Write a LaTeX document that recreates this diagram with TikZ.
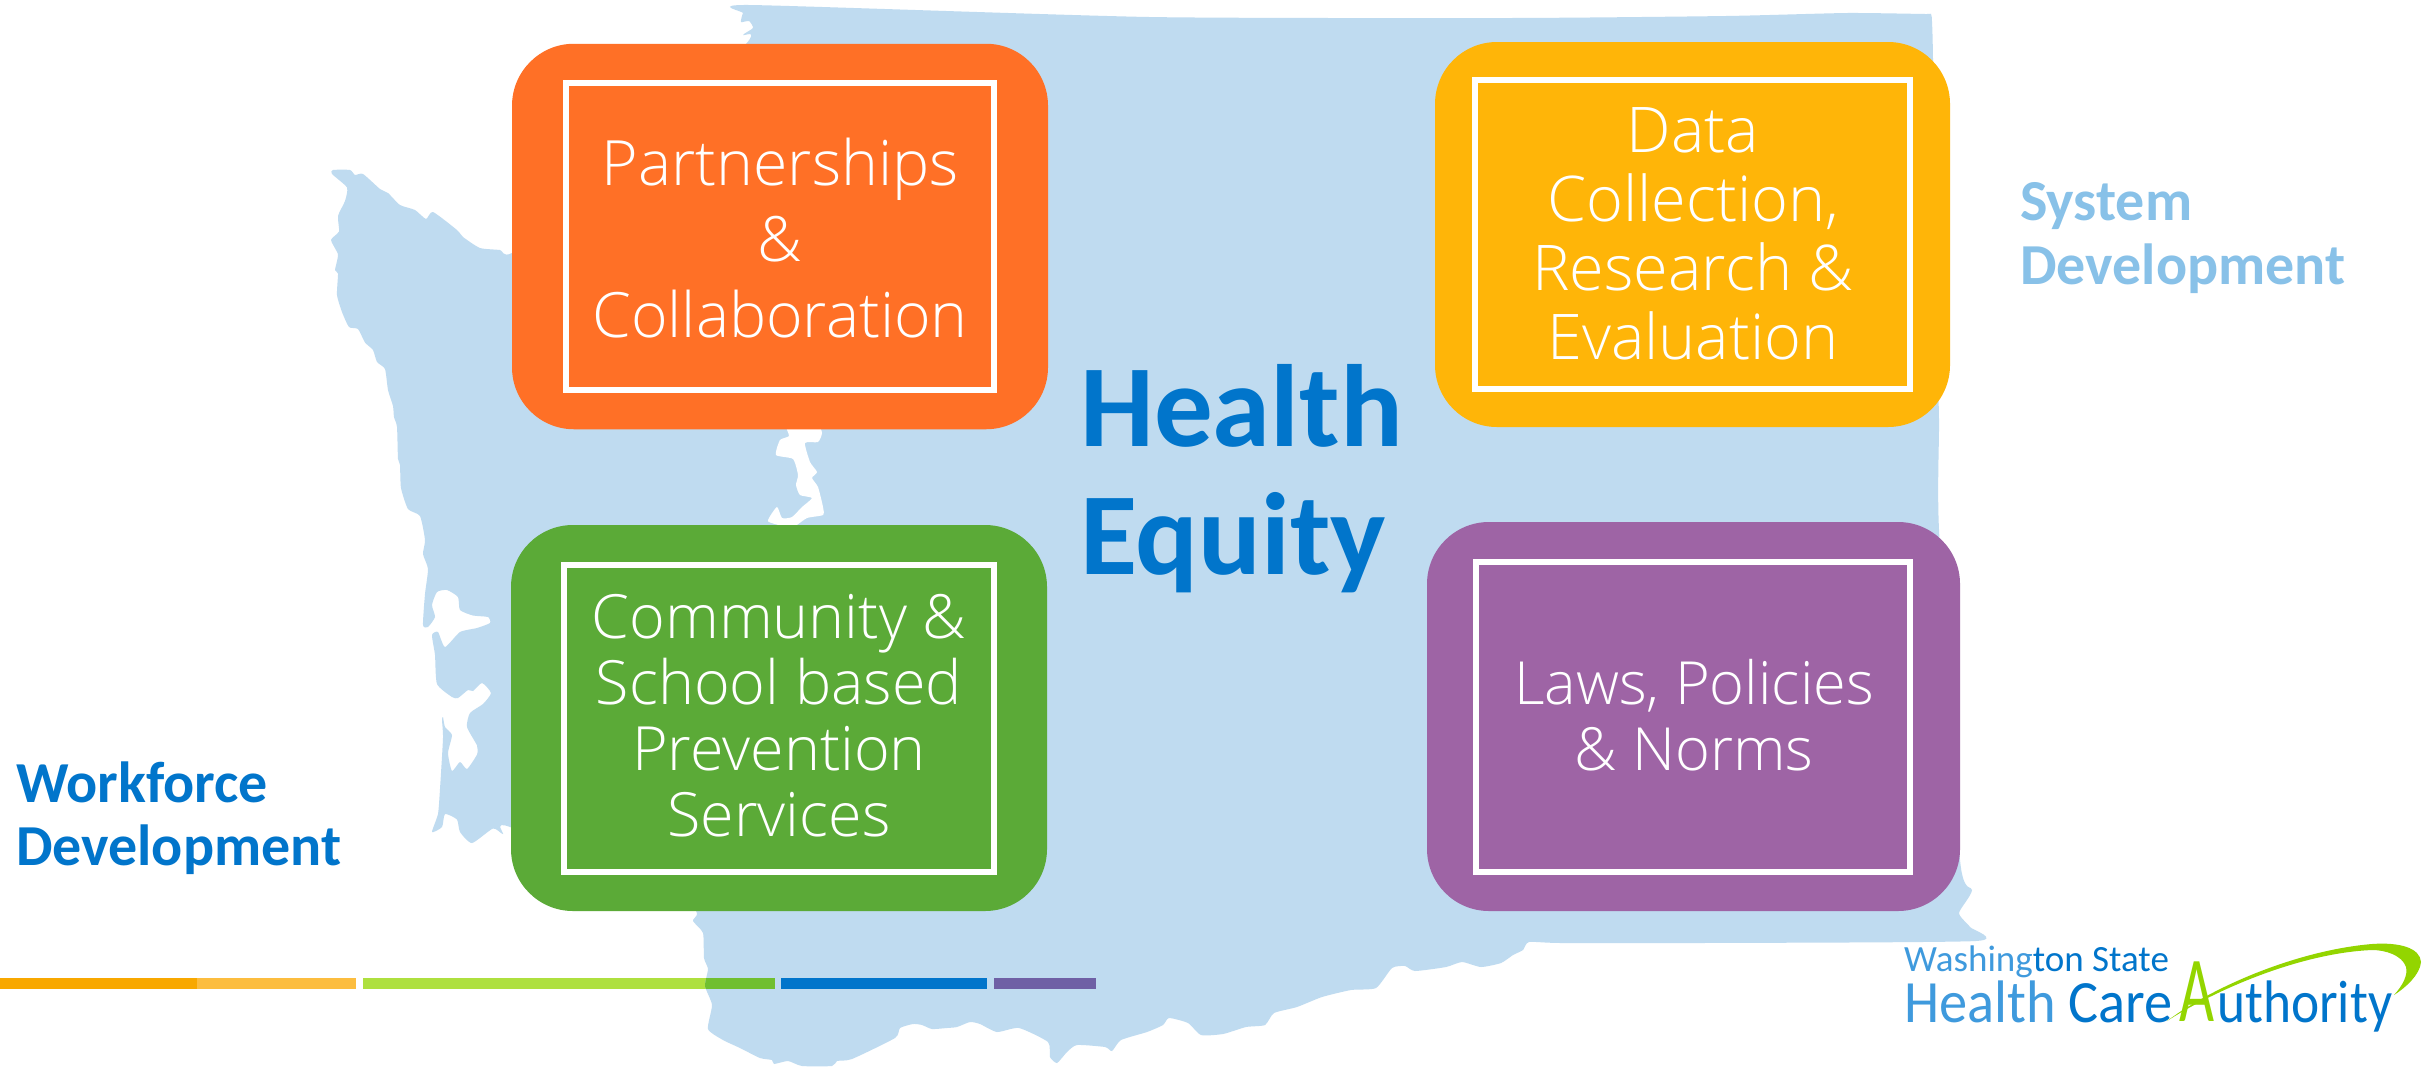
\documentclass[tikz,border=0pt]{standalone}
\usepackage{fontspec}
\setmainfont{Carlito}
\newfontfamily\lightfont{Open Sans Light}
\definecolor{mapblue}{HTML}{BFDBF0}
\definecolor{hblue}{HTML}{0175CB}
\definecolor{sblue}{HTML}{88C1E8}
\definecolor{cOrange}{HTML}{FF7026}
\definecolor{cGreen}{HTML}{5BAA37}
\definecolor{cYellow}{HTML}{FFB508}
\definecolor{cPurple}{HTML}{9E64A5}
\definecolor{logolight}{HTML}{3F9ADD}
\definecolor{logogreen}{HTML}{93D500}
\tikzset{
  outerbox/.style={rectangle,rounded corners=62pt,inner sep=0pt,outer sep=0pt},
  innerbox/.style={rectangle,draw=white,line width=6pt,inner sep=0pt,outer sep=0pt},
  boxlabel/.style={text=white,align=center,inner sep=0pt},
  headline/.style={text=hblue,anchor=base west,inner sep=0pt,font=\bfseries\fontsize{117}{117}\selectfont},
  sidelabel/.style={anchor=base west,inner sep=0pt,font=\bfseries\fontsize{58}{58}\selectfont},
}
\def\mappath{plot[smooth cycle,tension=0.35] coordinates {
(749,5)(1149,17)(1511,18)(1726,16)(1847,13)(1925,14)(1931,14)(1932,22)(1933,60)(1936,300)(1939,420)(1939,530)(1960,860)(1972,890)(1959,913)(1970,927)(1976,941)(1701,943)(1561,943)(1529,942)(1523,950)(1513,955)(1501,963)(1481,967)(1462,962)(1446,967)(1415,971)(1405,966)(1392,968)(1376,988)(1351,990)(1322,997)(1297,1007)(1274,1013)(1265,1025)(1246,1027)(1223,1034)(1201,1035)(1188,1023)(1169,1018)(1163,1025)(1147,1032)(1121,1040)(1112,1051)(1105,1047)(1077,1045)(1067,1052)(1057,1063)(1050,1057)(1048,1042)(1019,1028)(997,1032)(980,1024)(970,1022)(957,1027)(947,1028)(932,1029)(922,1025)(913,1024)(900,1028)(895,1038)(852,1059)(837,1061)(832,1066)(802,1066)(788,1061)(774,1064)(772,1060)(760,1058)(740,1048)(723,1040)(708,1029)(712,1005)(705,986)(708,969)(704,958)(703,933)(693,921)(688,905)(510,827)(503,834)(493,828.5)(472,843)(460,832)(457,819.5)(445,814)(442,827)(432,832)(438,814)(440,789)(443,738)(442,720)(443,717)(445,727)(452,735)(448,753)(452,771)(460,762)(467,769)(477,754.5)(477,745.5)(467,727)(470,713)(483,704)(491,693)(482,683)(473,691)(468,690)(458,698)(452,697)(437,684)(435,655)(432,635)(438,632)(445,647)(460,632)(477,628)(490,623)(488,617)(473,615.5)(460,610)(458,597)(447,590)(437,592)(432,605)(435,617)(428,627)(423,625)(425,594)(428,569)(423,554)(425,540)(420,516)(408,509)(401,488)(400,465)(398,459)(397,427)(394,417)(393,406)(388,390)(385,369)(377,362)(373,350)(365,342.5)(358,329)(349,327)(342,312)(337,295)(338,273.6)(335,270)(338,254.5)(331,240)(339,231.5)(338,216)(345,201)(347,187.5)(332,174)(333,170)(350,170)(355,175)(363,174)(380,189)(388,193)(400,205)(415,210)(426,219)(433,212)(457,230)(463,237)(480,248)(500,250)(512,253)(600,200)(746,44)(743,35)(753,28)(749,21)(741,22)(743,13)
}}
\begin{document}
\begin{tikzpicture}[x=1pt,y=-1pt]
\useasboundingbox (0,0) rectangle (2435,1066);
\fill[white] (0,0) rectangle (2435,1066);
% bars under the map
\fill[fill={rgb,255:red,248;green,168;blue,0}] (0,978) rectangle (197,989);
\fill[fill={rgb,255:red,252;green,189;blue,63}] (197,978) rectangle (356,989);
\fill[fill={rgb,255:red,174;green,224;blue,63}] (363,978) rectangle (775,989);
% map
\path[fill=mapblue] \mappath;
\fill[white] plot[smooth cycle,tension=0.35] coordinates {(787,425)(789,436)(780,440)(776,455)(793,459)(798,475)(796,485)(800,495)(812,498)(802,507)(792,517)(782,518)(777,507)(768,521)(783,526)(795,526)(807,518)(823,515)(823,507)(818,487)(812,478)(817,472)(810,462)(805,443)(818,442)(822,433)(817,425)};
\begin{scope}
\clip \mappath;
\fill[fill={rgb,255:red,112;green,191;blue,48}] (363,978) rectangle (775,989);
\end{scope}
\fill[hblue] (781,978) rectangle (987,989);
\fill[fill={rgb,255:red,111;green,96;blue,165}] (994,978) rectangle (1096,989);
% boxes
\node[outerbox,fill=cOrange,minimum width=536pt,minimum height=385.5pt] (oo) at (780,236.5) {};
\node[innerbox,minimum width=428pt,minimum height=307pt] (oi) at (780,236.5) {};
\node[boxlabel,font=\lightfont\fontsize{62.5}{68}\selectfont] (ot) at (780,238) {Partnerships\\[8pt]\&\\[8pt]Collaboration};
\node[outerbox,fill=cYellow,minimum width=515pt,minimum height=385pt] (yo) at (1692.5,234.5) {};
\node[innerbox,minimum width=435pt,minimum height=309pt] (yi) at (1692.5,234.5) {};
\node[boxlabel,font=\lightfont\fontsize{63}{69}\selectfont] (yt) at (1693,234) {Data\\Collection,\\Research \&\\Evaluation};
\node[outerbox,fill=cGreen,minimum width=536pt,minimum height=386pt] (go) at (779,718) {};
\node[innerbox,minimum width=430pt,minimum height=307pt] (gi) at (779,718) {};
\node[boxlabel,font=\lightfont\fontsize{61}{66}\selectfont] (gt) at (779,716) {Community \&\\School based\\Prevention\\Services};
\node[outerbox,fill=cPurple,minimum width=533pt,minimum height=389pt] (po) at (1693.5,716.5) {};
\node[innerbox,minimum width=434pt,minimum height=310pt] (pi) at (1693,717) {};
\node[boxlabel,font=\lightfont\fontsize{59.5}{66.5}\selectfont] (pt) at (1694,715) {Laws, Policies\\\& Norms};
% headline
\node[headline] (h1) at (1080,446) {Health};
\node[headline] (h2) at (1080,574) {Equity};
% side labels
\node[sidelabel,text=hblue] (w1) at (16,802) {Workforce};
\node[sidelabel,text=hblue] (w2) at (16,865) {Development};
\node[sidelabel,text=sblue] (s1) at (2020,220) {System};
\node[sidelabel,text=sblue] (s2) at (2020,284) {Development};
% logo
\node[anchor=base west,inner sep=0pt,font=\fontsize{37}{37}\selectfont] (l1) at (1904,971) {\textcolor{logolight}{Washing}\textcolor{hblue}{ton State}};
\node[anchor=base west,inner sep=0pt,font=\fontsize{60}{60}\selectfont,xscale=0.94] (l2) at (1904,1022) {\textcolor{logolight}{Health} \textcolor{hblue}{Care}};
\fill[logogreen] (2167,1021) .. controls (2215,985) and (2300,950) .. (2372,944) .. controls (2400,942) and (2420,948) .. (2421,962) .. controls (2420,975) and (2405,988) .. (2394,995) .. controls (2403,985) and (2408,975) .. (2406,967) .. controls (2402,955) and (2385,950) .. (2372,950) .. controls (2300,953) and (2215,990) .. (2167,1021) -- cycle;
\node[anchor=base,inner sep=0pt,font=\fontsize{93}{93}\selectfont,text=logogreen,xscale=0.65] (l3) at (2197,1021) {A};
\node[anchor=base west,inner sep=0pt,font=\fontsize{60}{60}\selectfont,text=hblue,xscale=0.89] (l4) at (2217,1022) {uthority};
\end{tikzpicture}
\end{document}
